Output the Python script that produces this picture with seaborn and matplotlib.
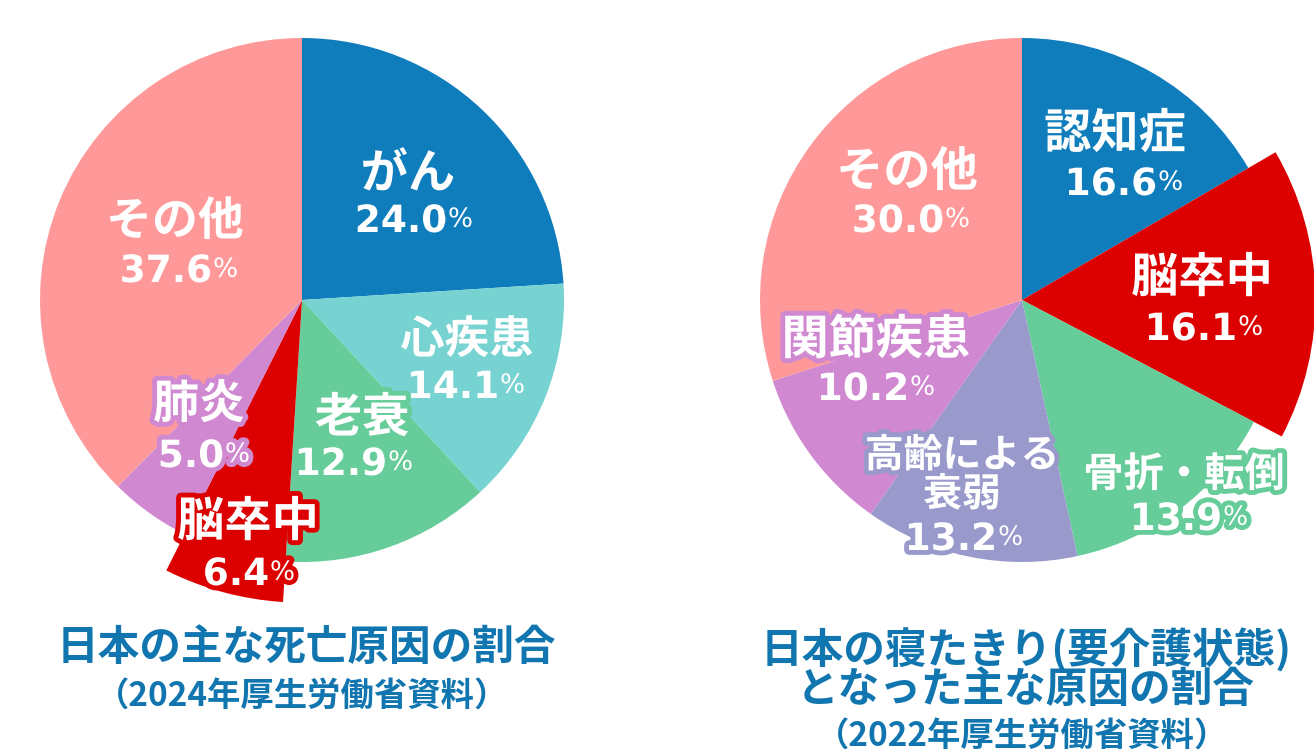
import matplotlib
matplotlib.use("Agg")
import matplotlib.pyplot as plt
import matplotlib.patheffects as pe
import seaborn as sns

sns.set_theme(style="white")
JP = ["Noto Sans CJK JP", "DejaVu Sans"]
NUM = ["DejaVu Sans"]
plt.rcParams["font.family"] = JP

# ---------------- data ----------------
left_labels = ["がん", "心疾患", "老衰", "脳卒中", "肺炎", "その他"]
left_values = [24.0, 14.1, 12.9, 6.4, 5.0, 37.6]
left_colors = ["#0f7dbc", "#77d2d2", "#66cc99", "#dd0000", "#d088d0", "#ff9999"]
left_title = ["日本の主な死亡原因の割合"]
left_source = "（2024年厚生労働省資料）"

right_labels = ["認知症", "脳卒中", "骨折・転倒", "高齢による\n衰弱", "関節疾患", "その他"]
right_values = [16.6, 16.1, 13.9, 13.2, 10.2, 30.0]
right_colors = ["#0f7dbc", "#dd0000", "#66cc99", "#9999cc", "#d088d0", "#ff9999"]
right_title = ["日本の寝たきり(要介護状態)", "となった主な原因の割合"]
right_source = "（2022年厚生労働省資料）"

highlight = "脳卒中"
TITLE_COLOR = "#1176b0"

# ---------------- layout ----------------
W, H = 1314, 754
fig = plt.figure(figsize=(W / 100, H / 100), dpi=100)
ax = fig.add_axes([0, 0, 1, 1])

R = 262
pies = [
    dict(labels=left_labels, values=left_values, colors=left_colors, center=(302, 300),
         explode_scale=1.155, title=left_title, source=left_source,
         title_y=[648], source_y=697,
         # label offsets (name centre, number-group centre) from pie centre in px
         offsets=[((106, -126), (113, -78)), ((165, 40), (165, 88)), ((60, 118), (53, 165)),
                  ((-54, 222), (-52, 275)), ((-103, 105), (-97, 157)), ((-127, -78), (-122, -28))],
         name_size=[34, 32, 34, 34, 33, 33]),
    dict(labels=right_labels, values=right_values, colors=right_colors, center=(1022, 300),
         explode_scale=1.12, title=right_title, source=right_source,
         title_y=[650, 690], source_y=737,
         offsets=[((93, -166), (103, -115)), ((180, -22), (183, 30)), ((162, 175), (168, 220)),
                  ((-60, 175), (-57, 240)), ((-146, 40), (-145, 90)), ((-115, -128), (-110, -78))],
         name_size=[34, 34, 29, 28, 34, 34]),
]

for p in pies:
    wedges, _ = ax.pie(p["values"], colors=p["colors"], center=p["center"], radius=R,
                       startangle=-90, counterclock=True,
                       wedgeprops=dict(linewidth=0))
    cx, cy = p["center"]
    for w, lab, val, col, (no, vo), ns in zip(wedges, p["labels"], p["values"], p["colors"],
                                               p["offsets"], p["name_size"]):
        if lab == highlight:
            w.set_radius(R * p["explode_scale"])
        stroke = [pe.withStroke(linewidth=7, foreground=col)]
        ax.text(cx + no[0], cy + no[1], lab, ha="center", va="center", fontsize=ns,
                fontweight="bold", color="white", family=JP, linespacing=1.0,
                path_effects=stroke, zorder=5)
        num = ax.text(cx + vo[0] - 14, cy + vo[1], f"{val:.1f}", ha="center", va="center",
                      fontsize=27, fontweight="bold", color="white", family=NUM,
                      path_effects=stroke, zorder=5)
        ax.annotate("%", xy=(1, 0.2), xycoords=num, xytext=(0.5, 0), textcoords="offset points",
                    ha="left", va="bottom", fontsize=19, fontweight="normal", color="white",
                    family=NUM, path_effects=stroke, zorder=5)
    for line, ty in zip(p["title"], p["title_y"]):
        ax.text(cx + 4, ty, line, ha="center", va="center", fontsize=30,
                fontweight="bold", color=TITLE_COLOR, family=JP)
    ax.text(cx, p["source_y"], p["source"], ha="center", va="center", fontsize=24,
            fontweight="bold", color=TITLE_COLOR, family=JP)

ax.set_xlim(0, W)
ax.set_ylim(H, 0)
ax.set_aspect("auto")
ax.axis("off")
fig.savefig("out.png", dpi=100, facecolor="white")
